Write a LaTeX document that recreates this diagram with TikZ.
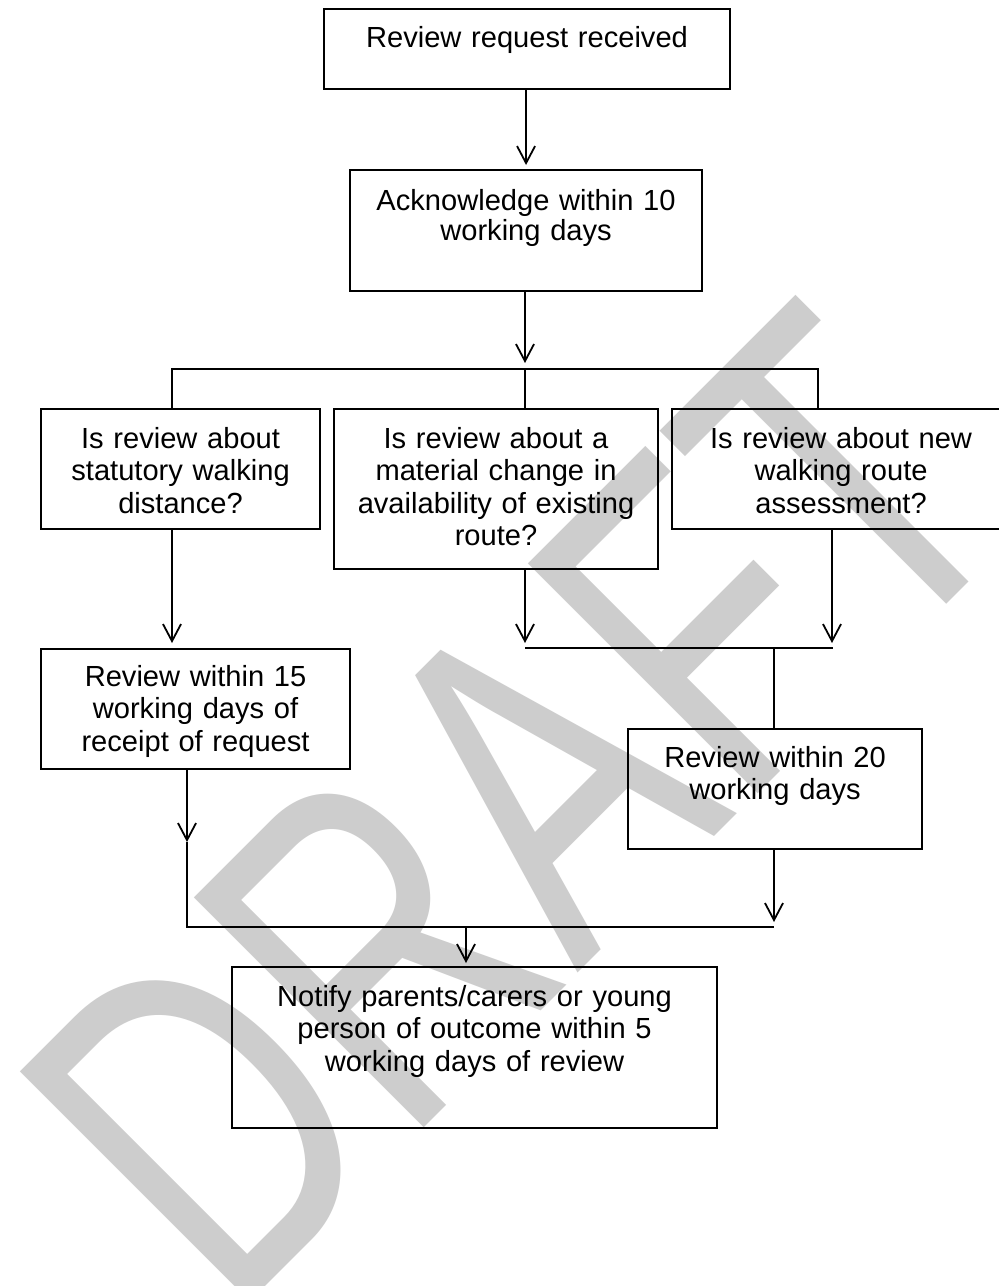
\documentclass[tikz,border=0pt]{standalone}
\usepackage{fontspec}
\setmainfont{Liberation Sans}
\usetikzlibrary{arrows.meta,calc}
\definecolor{wmgray}{HTML}{CDCDCD}
\begin{document}
\begin{tikzpicture}[x=0.5pt,y=-0.5pt,
  box/.style={draw=black, line width=1.05pt, inner sep=0pt, align=center, anchor=north west,
    font=\fontsize{14.55}{16.25}\selectfont},
  conn/.style={draw=black, line width=0.9pt},
  arr/.style={conn, -{Straight Barb[length=8.5pt,width=9pt,line width=0.9pt]}},
  wmark/.style={text=wmgray, inner sep=0pt, anchor=base west, transform shape,
    font=\fontsize{170}{170}\selectfont}
]
\useasboundingbox (0,0) rectangle (999,1286);
\fill[white] (0,0) rectangle (999,1286);
% watermark
\begin{scope}[shift={(230.3,1321.3)}, rotate=45, yscale=1.39]
  \node[wmark] (wm) at (0,0) {DRAFT};
\end{scope}

% boxes
\node[box, text width=203pt, text height=19pt, text depth=21pt] (b1) at (323,8) {Review request received};
\node[box, text width=176pt, text height=20pt, text depth=40.5pt, font=\fontsize{14.55}{15.3}\selectfont] (b2) at (349,169) {Acknowledge within 10\\working days};
\node[box, text width=139.5pt, text height=19.5pt, text depth=40.5pt] (b3) at (40,408) {Is review about\\statutory walking\\distance?};
\node[box, text width=162pt, text height=19.5pt, text depth=60.5pt] (b4) at (333,408) {Is review about a\\material change in\\availability of existing\\route?};
\node[box, text width=169pt, text height=19.5pt, text depth=40.5pt] (b5) at (671,408) {Is review about new\\walking route\\assessment?};
\node[box, text width=154.5pt, text height=18.5pt, text depth=41.5pt] (b6) at (40,648) {Review within 15\\working days of\\receipt of request};
\node[box, text width=147pt, text height=19pt, text depth=41pt] (b7) at (627,728) {Review within 20\\working days};
\node[box, text width=242.5pt, text height=19.5pt, text depth=61pt] (b8) at (231,966) {Notify parents/carers or young\\person of outcome within 5\\working days of review};

% junction points
\coordinate (j1) at (525,369);
\coordinate (jL) at (172,369);
\coordinate (jR) at (818,369);
\coordinate (m1) at (525,648);
\coordinate (m2) at (833,648);
\coordinate (m3) at (774,648);
\coordinate (k1) at (187,842);
\coordinate (k2) at (187,927);
\coordinate (k3) at (774,927);
\coordinate (k4) at (466,927);

% connectors
\draw[arr, shorten >=2pt] (b1.south -| b2.north) -- (b2.north);
\draw[arr, shorten >=3pt] (b2.south -| j1) -- (j1);
\draw[conn] (b3.north -| jL) |- (jR) -- (b5.north -| jR);
\draw[conn] (j1) -- (b4.north -| j1);
\draw[arr, shorten >=2.5pt] (b3.south -| jL) -- (b6.north -| jL);
\draw[arr, shorten >=2.5pt] (b4.south -| m1) -- (m1);
\draw[arr, shorten >=2.5pt] (b5.south -| 832,0) -- (m2 -| 832,0);
\draw[conn] (m1) -- (m2);
\draw[conn] (m3) -- (b7.north -| m3);
\draw[arr] (b6.south -| k1) -- (k1);
\draw[conn] (k1) -- (k2) -- (k3);
\draw[arr, shorten >=2.5pt] (b7.south -| k3) -- (k3);
\draw[arr, shorten >=1.5pt] (k4) -- (b8.north -| k4);
\end{tikzpicture}
\end{document}
